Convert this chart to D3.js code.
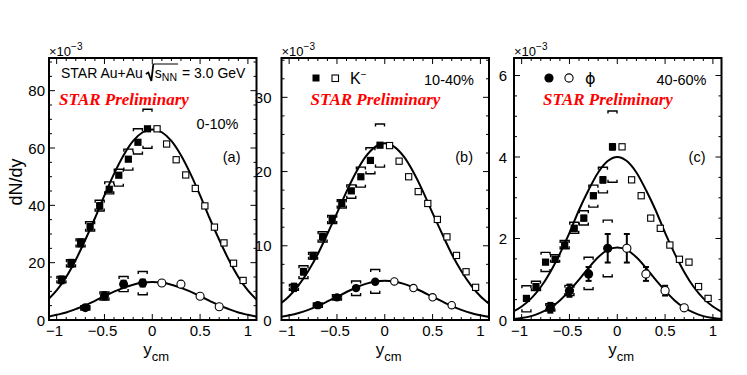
<!DOCTYPE html>
<html>
<head>
<meta charset="utf-8">
<script src="https://cdn.jsdelivr.net/npm/d3@7"></script>
<style>
  body { margin: 0; background: #fff; }
  svg { display: block; font-family: "Liberation Sans", Arial, Helvetica, sans-serif; }
</style>
</head>
<body>
<div id="container"></div>
<script>
// Rapidity bins (measured side and reflected side)
const kaonY = [-0.95, -0.85, -0.75, -0.65, -0.55, -0.45, -0.35, -0.25, -0.15, -0.05];
const kaonYRefl = [0.05, 0.15, 0.25, 0.35, 0.45, 0.55, 0.65, 0.75, 0.85, 0.95];
const phiY = [-0.7, -0.5, -0.3, -0.1];
const phiYRefl = [0.1, 0.3, 0.5, 0.7];
const fitY = [-1.1, -1.0, -0.9, -0.8, -0.7, -0.6, -0.5, -0.4, -0.3, -0.2, -0.1, 0,
  0.1, 0.2, 0.3, 0.4, 0.5, 0.6, 0.7, 0.8, 0.9, 1.0, 1.1];

// 0-10% (x10^-3)
const kaon010 = [14.0, 19.8, 26.9, 32.5, 39.8, 45.6, 50.5, 56.1, 62.0, 66.7];
const kaon010Refl = [66.7, 61.4, 55.9, 50.6, 45.9, 39.8, 32.4, 26.9, 19.8, 13.8];
const kaon010Stat = [1.2, 1.2, 1.2, 1.0, 1.0, 0.8, 0.6, 0.5, 0.5, 0.5];
const kaon010Sys = [[13.0, 15.2], [18.6, 21.0], [25.5, 28.3], [31.0, 34.3], [38.0, 41.8],
  [44.0, 48.2], [46.7, 52.6], [52.3, 59.6], [57.9, 66.7], [59.9, 73.5]];
const phi010 = [4.3, 8.4, 12.5, 12.9];
const phi010Refl = [12.9, 12.5, 8.3, 4.6];
const phi010Stat = [0.8, 1.2, 1.2, 1.2];
const phi010Sys = [[3.5, 5.0], [7.0, 9.8], [9.9, 15.2], [8.8, 16.9]];
const kaonFit010 = [6.8, 10.3, 15, 21, 28, 35.5, 43.5, 51, 57.5, 62.5, 65.5, 66.5,
  65.5, 62.5, 57.5, 51, 43.5, 35.5, 28, 21, 15, 10.3, 6.8];
const phiFit010 = [1.1, 1.8, 2.6, 3.8, 5.1, 6.7, 8.3, 9.9, 11.2, 12.3, 13.05, 13.3,
  13.05, 12.3, 11.2, 9.9, 8.3, 6.7, 5.1, 3.8, 2.6, 1.8, 1.1];

// 10-40%
const kaon1040 = [4.4, 6.5, 8.65, 11.2, 13.55, 15.7, 17.4, 19.3, 21.5, 23.55];
const kaon1040Refl = [23.5, 21.4, 19.3, 17.3, 15.7, 13.55, 11.2, 8.7, 6.5, 4.4];
const kaon1040Stat = [0.5, 0.4, 0.4, 0.4, 0.3, 0.3, 0.2, 0.2, 0.2, 0.2];
const kaon1040Sys = [[4.0, 4.8], [5.6, 7.3], [8.2, 9.1], [10.5, 11.9], [13.0, 14.1],
  [15.1, 16.2], [16.4, 18.2], [17.9, 20.6], [19.7, 23.2], [20.6, 26.4]];
const phi1040 = [2.0, 3.05, 4.3, 5.15];
const phi1040Refl = [5.2, 4.3, 3.05, 2.0];
const phi1040Stat = [0.3, 0.3, 0.25, 0.2];
const phi1040Sys = [[1.7, 2.3], [2.7, 3.4], [3.3, 5.25], [3.6, 6.8]];
const kaonFit1040 = [2.1, 3.2, 4.7, 6.6, 8.9, 11.6, 14.4, 17.3, 19.9, 22.0, 23.33, 23.8,
  23.33, 22.0, 19.9, 17.3, 14.4, 11.6, 8.9, 6.6, 4.7, 3.2, 2.1];
const phiFit1040 = [0.4, 0.63, 0.94, 1.36, 1.87, 2.5, 3.13, 3.77, 4.38, 4.87, 5.19, 5.3,
  5.19, 4.87, 4.38, 3.77, 3.13, 2.5, 1.87, 1.36, 0.94, 0.63, 0.4];

// 40-60%
const kaon4060 = [0.53, 0.82, 1.42, 1.49, 1.84, 2.25, 2.5, 3.05, 3.44, 4.25];
const kaon4060Refl = [4.25, 3.44, 3.05, 2.5, 2.25, 1.84, 1.49, 1.42, 0.82, 0.53];
const kaon4060Stat = [0.05, 0.05, 0.05, 0.05, 0.06, 0.06, 0.06, 0.06, 0.07, 0.07];
const kaon4060Sys = [[0.2, 0.84], [0.72, 0.95], [1.19, 1.66], [1.42, 1.6], [1.75, 1.95],
  [2.13, 2.4], [2.33, 2.68], [2.77, 3.31], [3.12, 3.75], [3.38, 5.13]];
const phi4060 = [0.30, 0.72, 1.13, 1.76];
const phi4060Refl = [1.76, 1.13, 0.72, 0.30];
const phi4060Stat = [0.12, 0.15, 0.17, 0.35];
const phi4060ReflStat = [0.35, 0.17, 0.12, 0.05];
const phi4060Sys = [[0.22, 0.4], [0.6, 0.85], [0.75, 1.54], [1.06, 2.45]];
const kaonFit4060 = [0.19, 0.33, 0.53, 0.81, 1.18, 1.63, 2.14, 2.7, 3.19, 3.62, 3.9, 4.0,
  3.9, 3.62, 3.19, 2.7, 2.14, 1.63, 1.18, 0.81, 0.53, 0.33, 0.19];
const phiFit4060 = [0.022, 0.047, 0.095, 0.18, 0.30, 0.48, 0.72, 0.99, 1.28, 1.54, 1.72, 1.78,
  1.72, 1.54, 1.28, 0.99, 0.72, 0.48, 0.30, 0.18, 0.095, 0.047, 0.022];

const centLabels = ['0-10%', '10-40%', '40-60%'];
const panelTags = ['(a)', '(b)', '(c)'];
const xTicks = [-1, -0.5, 0, 0.5, 1];

const W = 747, H = 375;
const svg = d3.select('#container').append('svg')
  .attr('width', W)
  .attr('height', H);

const frameTop = 58, frameBottom = 320;

const panels = [
  { left: 49, ymax: 91.4, major: 20, minor: 5, gap: 4, r: 4.5,
    kaon: kaon010, kaonRefl: kaon010Refl, kaonStat: kaon010Stat, kaonSys: kaon010Sys,
    phi: phi010, phiRefl: phi010Refl, phiStat: phi010Stat, phiReflStat: null, phiSys: phi010Sys,
    kaonFit: kaonFit010, phiFit: phiFit010 },
  { left: 281.5, ymax: 35.3, major: 10, minor: 2.5, gap: 10, r: 4.2,
    kaon: kaon1040, kaonRefl: kaon1040Refl, kaonStat: kaon1040Stat, kaonSys: kaon1040Sys,
    phi: phi1040, phiRefl: phi1040Refl, phiStat: phi1040Stat, phiReflStat: null, phiSys: phi1040Sys,
    kaonFit: kaonFit1040, phiFit: phiFit1040 },
  { left: 514, ymax: 6.43, major: 2, minor: 0.5, gap: 7, r: 4.6,
    kaon: kaon4060, kaonRefl: kaon4060Refl, kaonStat: kaon4060Stat, kaonSys: kaon4060Sys,
    phi: phi4060, phiRefl: phi4060Refl, phiStat: phi4060Stat, phiReflStat: phi4060ReflStat, phiSys: phi4060Sys,
    kaonFit: kaonFit4060, phiFit: phiFit4060 }
];
const pw = 207.5;

panels.forEach((p, i) => {
  const x = d3.scaleLinear().domain([-1.08, 1.09]).range([p.left, p.left + pw]);
  const y = d3.scaleLinear().domain([0, p.ymax]).range([frameBottom, frameTop]);
  const g = svg.append('g');

  const clipId = 'clip' + i;
  svg.append('clipPath').attr('id', clipId).append('rect')
    .attr('x', p.left).attr('y', frameTop).attr('width', pw).attr('height', frameBottom - frameTop);

  // ticks on all four sides
  const ax = g.append('g').attr('stroke', '#000').attr('stroke-width', 1);
  d3.range(-1.0, 1.0001, 0.1).forEach(v => {
    const isMajor = Math.abs(v * 2 - Math.round(v * 2)) < 1e-6;
    const len = isMajor ? 6 : 3;
    ax.append('line').attr('x1', x(v)).attr('x2', x(v)).attr('y1', frameBottom).attr('y2', frameBottom - len);
    ax.append('line').attr('x1', x(v)).attr('x2', x(v)).attr('y1', frameTop).attr('y2', frameTop + len);
  });
  d3.range(0, p.ymax + 1e-9, p.minor).forEach(v => {
    const isMajor = Math.abs(v / p.major - Math.round(v / p.major)) < 1e-6;
    const len = isMajor ? 6 : 3;
    ax.append('line').attr('x1', p.left).attr('x2', p.left + len).attr('y1', y(v)).attr('y2', y(v));
    ax.append('line').attr('x1', p.left + pw).attr('x2', p.left + pw - len).attr('y1', y(v)).attr('y2', y(v));
  });

  // tick labels
  g.selectAll('.xl').data(xTicks).enter().append('text')
    .attr('x', d => x(d) + (d < 0 ? -2 : 0)).attr('y', 336)
    .attr('text-anchor', 'middle').attr('font-size', 15)
    .text(d => d3.format('')(d).replace('-', '\u2212'));
  g.selectAll('.yl').data(d3.range(0, p.ymax, p.major)).enter().append('text')
    .attr('x', p.left - p.gap).attr('y', d => y(d) + 5.5)
    .attr('text-anchor', 'end').attr('font-size', 15)
    .text(d => d);

  // x10^-3
  const mult = g.append('text').attr('x', p.left).attr('y', 56).attr('font-size', 13);
  mult.append('tspan').text('\u00d710');
  mult.append('tspan').attr('dy', -6).attr('font-size', 10).text('\u22123');

  // axis title
  const xt = g.append('text').attr('x', x(0) - 9).attr('y', 355).attr('font-size', 17);
  xt.append('tspan').text('y');
  xt.append('tspan').attr('dy', 6).attr('font-size', 13).text('cm');

  // fit curves
  const line = d3.line().x((d, j) => x(fitY[j])).y(d => y(d)).curve(d3.curveMonotoneX);
  const fits = g.append('g').attr('clip-path', `url(#${clipId})`);
  [p.kaonFit, p.phiFit].forEach(f => {
    fits.append('path').datum(f).attr('d', line)
      .attr('fill', 'none').attr('stroke', '#000').attr('stroke-width', 2);
  });

  // systematic brackets
  const sysG = g.append('g').attr('fill', 'none').attr('stroke', '#000').attr('stroke-width', 1.4);
  const bw = 4.5, bh = 2.5;
  function brackets(xs, sys) {
    sys.forEach((s, j) => {
      const cx = x(xs[j]);
      const yl = y(s[0]), yh = y(s[1]);
      sysG.append('path').attr('d', `M${cx - bw},${yh + bh}V${yh}H${cx + bw}V${yh + bh}`);
      sysG.append('path').attr('d', `M${cx - bw},${yl - bh}V${yl}H${cx + bw}V${yl - bh}`);
    });
  }
  brackets(kaonY, p.kaonSys);
  brackets(phiY, p.phiSys);

  // stat error bars
  const statG = g.append('g').attr('stroke', '#000').attr('stroke-width', 2);
  function statBars(xs, vals, errs) {
    vals.forEach((v, j) => {
      const cx = x(xs[j]);
      statG.append('line').attr('x1', cx).attr('x2', cx).attr('y1', y(v - errs[j])).attr('y2', y(v + errs[j]));
      statG.append('line').attr('x1', cx - 3).attr('x2', cx + 3).attr('y1', y(v - errs[j])).attr('y2', y(v - errs[j]));
      statG.append('line').attr('x1', cx - 3).attr('x2', cx + 3).attr('y1', y(v + errs[j])).attr('y2', y(v + errs[j]));
    });
  }
  statBars(kaonY, p.kaon, p.kaonStat);
  statBars(phiY, p.phi, p.phiStat);
  if (p.phiReflStat) statBars(phiYRefl, p.phiRefl, p.phiReflStat);

  // markers
  const s = 3.6;
  g.selectAll('.kf').data(p.kaon).enter().append('rect')
    .attr('x', (d, j) => x(kaonY[j]) - s).attr('y', d => y(d) - s)
    .attr('width', 2 * s).attr('height', 2 * s).attr('fill', '#000');
  g.selectAll('.ko').data(p.kaonRefl).enter().append('rect')
    .attr('x', (d, j) => x(kaonYRefl[j]) - s + 0.5).attr('y', d => y(d) - s + 0.5)
    .attr('width', 2 * s - 1).attr('height', 2 * s - 1)
    .attr('fill', '#fff').attr('stroke', '#000').attr('stroke-width', 1.1);
  g.selectAll('.pf').data(p.phi).enter().append('circle')
    .attr('cx', (d, j) => x(phiY[j])).attr('cy', d => y(d)).attr('r', p.r).attr('fill', '#000');
  g.selectAll('.po').data(p.phiRefl).enter().append('circle')
    .attr('cx', (d, j) => x(phiYRefl[j])).attr('cy', d => y(d)).attr('r', p.r - 0.5)
    .attr('fill', '#fff').attr('stroke', '#000').attr('stroke-width', 1.1);

  // frame
  g.append('rect').attr('x', p.left).attr('y', frameTop).attr('width', pw).attr('height', frameBottom - frameTop)
    .attr('fill', 'none').attr('stroke', '#000').attr('stroke-width', 2);

  // labels
  g.append('text').attr('x', p.left + (i === 0 ? 10 : 29)).attr('y', 105)
    .attr('font-family', '"Liberation Serif", "Times New Roman", serif')
    .attr('font-style', 'italic').attr('font-weight', 'bold').attr('font-size', 17)
    .attr('fill', '#ff0000').text('STAR Preliminary');
  g.append('text').attr('x', p.left + pw - (i === 0 ? 18 : 15)).attr('y', i === 0 ? 129 : 85)
    .attr('text-anchor', 'end').attr('font-size', 14.5).text(centLabels[i]);
  g.append('text').attr('x', p.left + pw - 16).attr('y', 162)
    .attr('text-anchor', 'end').attr('font-size', 14.5).text(panelTags[i]);
});

// y axis title
svg.append('text').attr('transform', 'translate(22,182) rotate(-90)')
  .attr('text-anchor', 'middle').attr('font-size', 18).text('dN/dy');

// Panel a header: STAR Au+Au sqrt(s_NN) = 3.0 GeV
const hdr = svg.append('g').attr('font-size', 14);
const t1 = hdr.append('text').attr('x', 61).attr('y', 78).text('STAR Au+Au');
let hx = 61 + t1.node().getComputedTextLength() + 3;
hdr.append('path')
  .attr('d', `M${hx},74L${hx + 2.5},72.5L${hx + 5.5},81L${hx + 7.5},64`)
  .attr('fill', 'none').attr('stroke', '#000').attr('stroke-width', 1.8);
const sTxt = hdr.append('text').attr('x', hx + 9).attr('y', 78).text('s');
const nnX = hx + 9 + sTxt.node().getComputedTextLength();
const nn = hdr.append('text').attr('x', nnX).attr('y', 81).attr('font-size', 10.5).text('NN');
const endRad = nnX + nn.node().getComputedTextLength() + 1;
hdr.append('line').attr('x1', hx + 7.5).attr('x2', endRad).attr('y1', 64).attr('y2', 64)
  .attr('stroke', '#000').attr('stroke-width', 1);
hdr.append('text').attr('x', endRad + 4).attr('y', 78).text('= 3.0 GeV');

// Panel b legend: K-
svg.append('rect').attr('x', 312.5).attr('y', 74.5).attr('width', 7).attr('height', 7).attr('fill', '#000');
svg.append('rect').attr('x', 332).attr('y', 75).attr('width', 6.5).attr('height', 6.5)
  .attr('fill', '#fff').attr('stroke', '#000').attr('stroke-width', 1.1);
const kl = svg.append('text').attr('x', 350).attr('y', 84).attr('font-size', 16);
kl.append('tspan').text('K');
kl.append('tspan').attr('dy', -6).attr('font-size', 10).text('\u2212');

// Panel c legend: phi
svg.append('circle').attr('cx', 549).attr('cy', 78).attr('r', 4.6).attr('fill', '#000');
svg.append('circle').attr('cx', 569).attr('cy', 78).attr('r', 4.1)
  .attr('fill', '#fff').attr('stroke', '#000').attr('stroke-width', 1.1);
svg.append('text').attr('x', 585).attr('y', 84).attr('font-size', 16)
  .attr('font-family', '"DejaVu Sans", sans-serif').text('\u03d5');
</script>
</body>
</html>
